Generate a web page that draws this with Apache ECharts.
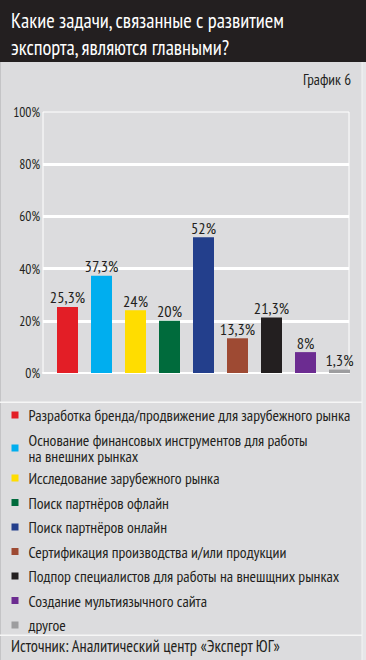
<!DOCTYPE html>
<html><head><meta charset="utf-8">
<script src="https://cdn.jsdelivr.net/npm/echarts@6/dist/echarts.min.js"></script>
<style>html,body{margin:0;padding:0;background:#dcdcde}#c{width:366px;height:660px}</style>
</head><body><div id="c"></div>
<script>
const titleLines = ['Какие задачи, связанные с развитием', 'экспорта, являются главными?'];
const chartNo = 'График 6';
const sourceText = 'Источник: Аналитический центр «Эксперт ЮГ»';
const categories = [
  'Разработка бренда/продвижение для зарубежного рынка',
  'Основание финансовых инструментов для работы\nна внешних рынках',
  'Исследование зарубежного рынка',
  'Поиск партнёров офлайн',
  'Поиск партнёров онлайн',
  'Сертификация производства и/или продукции',
  'Подпор специалистов для работы на внешщних рынках',
  'Создание мультиязычного сайта',
  'другое'
];
const values = [25.3, 37.3, 24, 20, 52, 13.3, 21.3, 8, 1.3];
const colors = ['#e31e26', '#00aeef', '#ffdd00', '#006b3c', '#233f8c', '#9e4a33', '#231f20', '#6c2c91', '#9d9d9f'];
const yMin = 0, yMax = 100, yStep = 20;

const FF = '"PT Sans Narrow", "Roboto Condensed", sans-serif';
const INK = '#231f20';

// font sizes fitted to the text widths seen in the reference
const ctx = document.createElement('canvas').getContext('2d');
function fit(text, target) {
  ctx.font = '100px ' + FF;
  return Math.round(target / ctx.measureText(text).width * 100 * 4) / 4;
}
const fsTitle = fit(titleLines[0], 274);
const fsLegend = fit(categories[0], 323);
const fsSource = fit(sourceText, 270);
const fsValue = fit('37,3%', 34);
const fsAxis = fit('100%', 27);
const fsNo = fit(chartNo, 48);

const chart = echarts.init(document.getElementById('c'), null, {renderer: 'svg'});
const series = categories.map((name, i) => ({
  type: 'bar', name, xAxisIndex: 1, yAxisIndex: 1,
  barWidth: 21, barGap: '-100%',
  data: values.map((v, j) => j === i ? v : '-'),
  itemStyle: {color: colors[i]},
  label: {
    show: true, position: 'top', distance: 2,
    formatter: p => String(p.value).replace('.', ',') + '%',
    fontSize: fsValue, color: INK, fontFamily: FF
  },
  emphasis: {disabled: true}
}));

const legendText = {fontSize: fsLegend, lineHeight: 16, color: INK, fontFamily: FF, padding: [0, 0, 0, 5]};
const legendBase = {orient: 'vertical', icon: 'rect', left: 11.5, itemWidth: 7, itemHeight: 7,
  selectedMode: false, padding: 0, textStyle: legendText};

chart.setOption({
  backgroundColor: '#dcdcde',
  animation: false,
  color: colors,
  graphic: [
    {type: 'rect', z: 0, shape: {x: 0, y: 0, width: 366, height: 62}, style: {fill: '#231f20'}},
    {type: 'rect', z: 0, shape: {x: 0, y: 62, width: 1, height: 598}, style: {fill: '#c4c4c6'}},
    {type: 'rect', z: 0, shape: {x: 362, y: 62, width: 4, height: 598}, style: {fill: '#e6e6e8'}},
    {type: 'rect', z: 0, shape: {x: 361.5, y: 62, width: 1, height: 598}, style: {fill: '#f4f4f4'}},
    {type: 'rect', z: 0, shape: {x: 0, y: 401.5, width: 362, height: 1.5}, style: {fill: '#f6f6f6'}},
    {type: 'rect', z: 0, shape: {x: 0, y: 634.5, width: 362, height: 1.5}, style: {fill: '#f6f6f6'}}
  ],
  title: [
    {text: titleLines.join('\n'), left: 11, top: 7, padding: 0, z: 10,
     textStyle: {color: '#ffffff', fontSize: fsTitle, lineHeight: 27, fontWeight: 'normal', fontFamily: FF}},
    {text: chartNo, right: 15, top: 71, padding: 0, z: 10,
     textStyle: {color: INK, fontSize: fsNo, fontWeight: 'normal', fontFamily: FF}},
    {text: sourceText, left: 11, top: 638, padding: 0, z: 10,
     textStyle: {color: INK, fontSize: fsSource, lineHeight: 16, fontWeight: 'normal', fontFamily: FF}}
  ],
  legend: [
    Object.assign({}, legendBase, {data: [categories[0]], top: 407}),
    // two-line item: the padded (transparent) text box keeps the icon level with the first line
    Object.assign({}, legendBase, {data: [categories[1]], top: 424,
      textStyle: Object.assign({}, legendText, {padding: [16, 0, 0, 5], backgroundColor: 'transparent'})}),
    Object.assign({}, legendBase, {data: categories.slice(2), top: 470, itemGap: 8.5})
  ],
  grid: [
    {left: 43, top: 112, width: 306, height: 261, show: true, borderColor: '#ffffff', borderWidth: 1, backgroundColor: 'transparent'},
    {left: 50.5, top: 112, width: 306, height: 261}
  ],
  xAxis: [
    {type: 'category', gridIndex: 0, data: [''],
     axisLine: {show: true, lineStyle: {color: '#ffffff', width: 2}},
     axisTick: {show: false}, axisLabel: {show: false}, splitLine: {show: false}},
    {type: 'category', gridIndex: 1, data: categories, show: false}
  ],
  yAxis: [
    {type: 'value', gridIndex: 0, min: yMin, max: yMax, interval: yStep,
     axisLine: {show: false}, axisTick: {show: false},
     axisLabel: {formatter: '{value}%', margin: 3, fontSize: fsAxis, color: INK, fontFamily: FF},
     splitLine: {show: true, showMinLine: false, showMaxLine: false, lineStyle: {color: '#ffffff', width: 3}}},
    {type: 'value', gridIndex: 1, min: yMin, max: yMax, show: false, splitLine: {show: false}}
  ],
  series
});
</script></body></html>
